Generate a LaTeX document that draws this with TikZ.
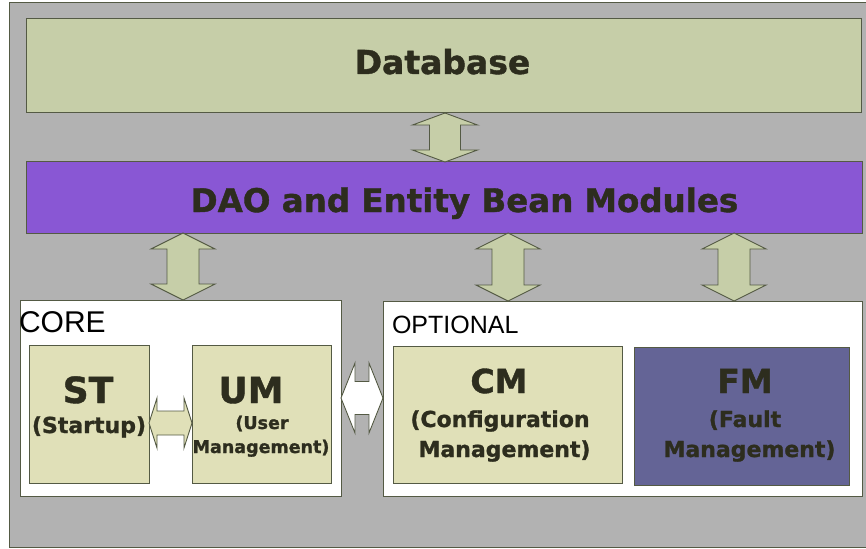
\documentclass[tikz,border=0pt]{standalone}
\usepackage{fontspec}
\setmainfont{DejaVu Sans}[BoldFeatures={FakeBold=1.2}]
\newfontfamily\arialfont{Liberation Sans}
\usetikzlibrary{calc}
\definecolor{bggray}{RGB}{178,178,178}
\definecolor{edge}{RGB}{84,90,68}
\definecolor{dbfill}{RGB}{198,206,168}
\definecolor{daofill}{RGB}{137,87,212}
\definecolor{modfill}{RGB}{224,224,184}
\definecolor{fmfill}{RGB}{100,100,150}
\definecolor{txt}{RGB}{45,45,30}
\newcommand\fs[1]{\fontsize{#1}{#1}\selectfont}
% vertical double arrow: top coord, bottom coord, head half width, shaft half width, head length, style
\newcommand\vdarrow[6]{%
  \draw[#6] let \p1=(#1), \p2=(#2) in
    (\x1,\y1) -- (\x1+#3,\y1-#5) -- (\x1+#4,\y1-#5) -- (\x1+#4,\y2+#5) -- (\x1+#3,\y2+#5)
    -- (\x1,\y2) -- (\x1-#3,\y2+#5) -- (\x1-#4,\y2+#5) -- (\x1-#4,\y1-#5) -- (\x1-#3,\y1-#5) -- cycle;}
% horizontal double arrow: left coord, right coord, head half height, shaft half height, head length, style
\newcommand\hdarrow[6]{%
  \draw[#6] let \p1=(#1), \p2=(#2) in
    (\x1,\y1) -- (\x1+#5,\y1+#3) -- (\x1+#5,\y1+#4) -- (\x2-#5,\y1+#4) -- (\x2-#5,\y1+#3)
    -- (\x2,\y1) -- (\x2-#5,\y1-#3) -- (\x2-#5,\y1-#4) -- (\x1+#5,\y1-#4) -- (\x1+#5,\y1-#3) -- cycle;}
\tikzset{
  boxbase/.style={draw=edge, line width=1pt, rectangle, inner sep=0pt, outer sep=0pt, anchor=north west},
  dbbox/.style={boxbase, fill=dbfill},
  daobox/.style={boxbase, fill=daofill},
  groupbox/.style={boxbase, fill=white},
  modbox/.style={boxbase, fill=modfill},
  fmbox/.style={boxbase, fill=fmfill},
  boxtext/.style={inner sep=0pt, outer sep=0pt, anchor=base, text=txt},
  heading/.style={inner sep=0pt, outer sep=0pt, anchor=base west, text=black},
  varrow/.style={draw=edge, line width=0.9pt, fill=dbfill, line join=miter},
  harrowa/.style={draw=edge, line width=0.9pt, fill=modfill},
  harrowb/.style={draw=edge, line width=0.9pt, fill=white},
}
\begin{document}
\begin{tikzpicture}[x=1pt,y=-1pt]
\useasboundingbox (0,0) rectangle (866,548);
% background
\path[fill=bggray, draw=edge, line width=1pt] (9,3) rectangle (872,547);

% main boxes
\node[dbbox, minimum width=835pt, minimum height=94pt] (db) at (26,19) {};
\node[daobox, minimum width=836pt, minimum height=71pt] (dao) at (26,162) {};
\node[groupbox, minimum width=321pt, minimum height=196pt] (core) at (20,300) {};
\node[groupbox, minimum width=479pt, minimum height=195pt] (opt) at (383,301) {};
\node[modbox, minimum width=120pt, minimum height=138pt] (st) at (29,345) {};
\node[modbox, minimum width=139pt, minimum height=138pt] (um) at (192,345) {};
\node[modbox, minimum width=229pt, minimum height=137pt] (cm) at (393,346) {};
\node[fmbox, minimum width=215pt, minimum height=138pt] (fm) at (634,347) {};

% texts
\node[boxtext, font=\bfseries\fs{33}] (dbt) at (442.5,74) {Database};
\node[boxtext, font=\bfseries\fs{32.5}] (daot) at (464.5,212) {DAO and Entity Bean Modules};
\node[heading, font=\arialfont\fs{30}] (coret) at (19,332) {CORE};
\node[heading, font=\arialfont\fs{25}] (optt) at (392,333) {OPTIONAL};

\node[boxtext, font=\bfseries\fs{36}] (st1) at (88,403) {ST};
\node[boxtext, font=\bfseries\fs{22}] (st2) at (89,433) {(Startup)};
\node[boxtext, font=\bfseries\fs{36}] (um1) at (251,403) {UM};
\node[boxtext, font=\bfseries\fs{17.5}] (um2) at (262,429) {(User};
\node[boxtext, font=\bfseries\fs{17.5}] (um3) at (261,453) {Management)};
\node[boxtext, font=\bfseries\fs{33}] (cm1) at (499,393) {CM};
\node[boxtext, font=\bfseries\fs{22}] (cm2) at (500,427) {(Configuration};
\node[boxtext, font=\bfseries\fs{22}] (cm3) at (504.5,457) {Management)};
\node[boxtext, font=\bfseries\fs{33}] (fm1) at (745,393) {FM};
\node[boxtext, font=\bfseries\fs{22}] (fm2) at (745,427) {(Fault};
\node[boxtext, font=\bfseries\fs{22}] (fm3) at (749.5,457) {Management)};

% arrow axes
\coordinate (a0) at (445,0);
\coordinate (a1) at (183,0);
\coordinate (a2) at (508,0);
\coordinate (a3) at (734,0);
\coordinate (h1) at (0,423);

% connectors
\vdarrow{db.south -| a0}{dao.north -| a0}{32.5pt}{15.5pt}{12pt}{varrow}
\vdarrow{dao.south -| a1}{core.north -| a1}{32pt}{16pt}{16pt}{varrow}
\vdarrow{dao.south -| a2}{opt.north -| a2}{32pt}{16pt}{16pt}{varrow}
\vdarrow{dao.south -| a3}{opt.north -| a3}{32pt}{16pt}{16pt}{varrow}
\hdarrow{st.east |- h1}{um.west |- h1}{25pt}{12pt}{8pt}{harrowa}
\hdarrow{core.east}{opt.west |- core.east}{35pt}{16.5pt}{14pt}{harrowb}
\end{tikzpicture}
\end{document}
